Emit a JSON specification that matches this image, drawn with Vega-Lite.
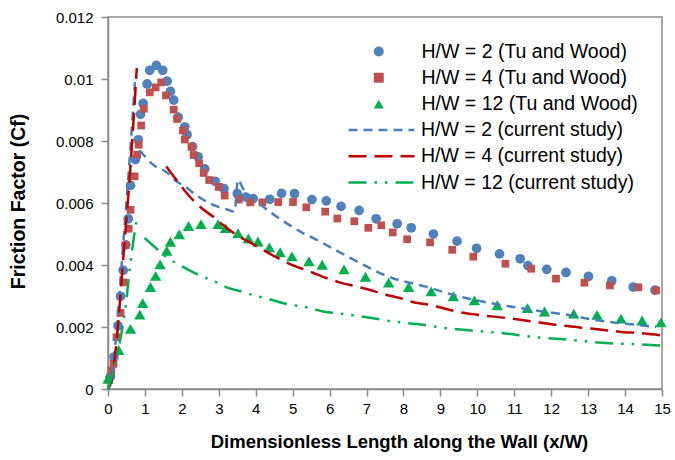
{
  "$schema": "https://vega.github.io/schema/vega-lite/v6.json",
  "width": 554,
  "height": 372,
  "autosize": {"type": "none"},
  "padding": {"left": 108, "top": 17, "right": 13, "bottom": 71},
  "background": "white",
  "config": {
    "view": {"stroke": "#8a8a8a", "strokeWidth": 1.5},
    "font": "Liberation Sans"
  },
  "datasets": {
    "pts": [
      {"s": "H/W = 2 (Tu and Wood)", "x": 0.065, "y": 0.0004},
      {"s": "H/W = 2 (Tu and Wood)", "x": 0.16, "y": 0.00103},
      {"s": "H/W = 2 (Tu and Wood)", "x": 0.27, "y": 0.00204},
      {"s": "H/W = 2 (Tu and Wood)", "x": 0.34, "y": 0.00299},
      {"s": "H/W = 2 (Tu and Wood)", "x": 0.41, "y": 0.00383},
      {"s": "H/W = 2 (Tu and Wood)", "x": 0.48, "y": 0.00465},
      {"s": "H/W = 2 (Tu and Wood)", "x": 0.55, "y": 0.00549},
      {"s": "H/W = 2 (Tu and Wood)", "x": 0.61, "y": 0.00657},
      {"s": "H/W = 2 (Tu and Wood)", "x": 0.74, "y": 0.0074},
      {"s": "H/W = 2 (Tu and Wood)", "x": 0.82, "y": 0.00804},
      {"s": "H/W = 2 (Tu and Wood)", "x": 0.88, "y": 0.00886},
      {"s": "H/W = 2 (Tu and Wood)", "x": 0.95, "y": 0.00921},
      {"s": "H/W = 2 (Tu and Wood)", "x": 1.06, "y": 0.00984},
      {"s": "H/W = 2 (Tu and Wood)", "x": 1.13, "y": 0.01028},
      {"s": "H/W = 2 (Tu and Wood)", "x": 1.31, "y": 0.01044},
      {"s": "H/W = 2 (Tu and Wood)", "x": 1.48, "y": 0.01028},
      {"s": "H/W = 2 (Tu and Wood)", "x": 1.6, "y": 0.00993},
      {"s": "H/W = 2 (Tu and Wood)", "x": 1.69, "y": 0.0096},
      {"s": "H/W = 2 (Tu and Wood)", "x": 1.78, "y": 0.00932},
      {"s": "H/W = 2 (Tu and Wood)", "x": 1.9, "y": 0.00877},
      {"s": "H/W = 2 (Tu and Wood)", "x": 2.08, "y": 0.00845},
      {"s": "H/W = 2 (Tu and Wood)", "x": 2.14, "y": 0.0082},
      {"s": "H/W = 2 (Tu and Wood)", "x": 2.29, "y": 0.00782},
      {"s": "H/W = 2 (Tu and Wood)", "x": 2.44, "y": 0.00749},
      {"s": "H/W = 2 (Tu and Wood)", "x": 2.62, "y": 0.0071},
      {"s": "H/W = 2 (Tu and Wood)", "x": 2.9, "y": 0.0067},
      {"s": "H/W = 2 (Tu and Wood)", "x": 3.14, "y": 0.00646},
      {"s": "H/W = 2 (Tu and Wood)", "x": 3.5, "y": 0.0063},
      {"s": "H/W = 2 (Tu and Wood)", "x": 3.73, "y": 0.00619},
      {"s": "H/W = 2 (Tu and Wood)", "x": 3.93, "y": 0.00614},
      {"s": "H/W = 2 (Tu and Wood)", "x": 4.38, "y": 0.00612},
      {"s": "H/W = 2 (Tu and Wood)", "x": 4.7, "y": 0.00631},
      {"s": "H/W = 2 (Tu and Wood)", "x": 5.05, "y": 0.0063},
      {"s": "H/W = 2 (Tu and Wood)", "x": 5.52, "y": 0.00611},
      {"s": "H/W = 2 (Tu and Wood)", "x": 5.91, "y": 0.00607},
      {"s": "H/W = 2 (Tu and Wood)", "x": 6.31, "y": 0.00589},
      {"s": "H/W = 2 (Tu and Wood)", "x": 6.8, "y": 0.00576},
      {"s": "H/W = 2 (Tu and Wood)", "x": 7.26, "y": 0.00549},
      {"s": "H/W = 2 (Tu and Wood)", "x": 7.83, "y": 0.00533},
      {"s": "H/W = 2 (Tu and Wood)", "x": 8.21, "y": 0.0052},
      {"s": "H/W = 2 (Tu and Wood)", "x": 8.81, "y": 0.005},
      {"s": "H/W = 2 (Tu and Wood)", "x": 9.45, "y": 0.00477},
      {"s": "H/W = 2 (Tu and Wood)", "x": 9.98, "y": 0.00454},
      {"s": "H/W = 2 (Tu and Wood)", "x": 10.6, "y": 0.00436},
      {"s": "H/W = 2 (Tu and Wood)", "x": 11.16, "y": 0.0042},
      {"s": "H/W = 2 (Tu and Wood)", "x": 11.37, "y": 0.00398},
      {"s": "H/W = 2 (Tu and Wood)", "x": 11.88, "y": 0.00386},
      {"s": "H/W = 2 (Tu and Wood)", "x": 12.4, "y": 0.00376},
      {"s": "H/W = 2 (Tu and Wood)", "x": 13.01, "y": 0.00363},
      {"s": "H/W = 2 (Tu and Wood)", "x": 13.64, "y": 0.00349},
      {"s": "H/W = 2 (Tu and Wood)", "x": 14.22, "y": 0.00329},
      {"s": "H/W = 2 (Tu and Wood)", "x": 14.81, "y": 0.00319},
      {"s": "H/W = 4 (Tu and Wood)", "x": 0.03, "y": 0.0003},
      {"s": "H/W = 4 (Tu and Wood)", "x": 0.09, "y": 0.00059},
      {"s": "H/W = 4 (Tu and Wood)", "x": 0.15, "y": 0.00081},
      {"s": "H/W = 4 (Tu and Wood)", "x": 0.23, "y": 0.00167},
      {"s": "H/W = 4 (Tu and Wood)", "x": 0.34, "y": 0.00245},
      {"s": "H/W = 4 (Tu and Wood)", "x": 0.42, "y": 0.00344},
      {"s": "H/W = 4 (Tu and Wood)", "x": 0.48, "y": 0.00464},
      {"s": "H/W = 4 (Tu and Wood)", "x": 0.56, "y": 0.00517},
      {"s": "H/W = 4 (Tu and Wood)", "x": 0.61, "y": 0.00578},
      {"s": "H/W = 4 (Tu and Wood)", "x": 0.72, "y": 0.00686},
      {"s": "H/W = 4 (Tu and Wood)", "x": 0.79, "y": 0.00756},
      {"s": "H/W = 4 (Tu and Wood)", "x": 0.83, "y": 0.00788},
      {"s": "H/W = 4 (Tu and Wood)", "x": 0.9, "y": 0.0085},
      {"s": "H/W = 4 (Tu and Wood)", "x": 0.97, "y": 0.00904},
      {"s": "H/W = 4 (Tu and Wood)", "x": 1.13, "y": 0.00957},
      {"s": "H/W = 4 (Tu and Wood)", "x": 1.29, "y": 0.00973},
      {"s": "H/W = 4 (Tu and Wood)", "x": 1.44, "y": 0.00989},
      {"s": "H/W = 4 (Tu and Wood)", "x": 1.57, "y": 0.00947},
      {"s": "H/W = 4 (Tu and Wood)", "x": 1.78, "y": 0.00901},
      {"s": "H/W = 4 (Tu and Wood)", "x": 1.87, "y": 0.00871},
      {"s": "H/W = 4 (Tu and Wood)", "x": 2.03, "y": 0.00834},
      {"s": "H/W = 4 (Tu and Wood)", "x": 2.08, "y": 0.00805},
      {"s": "H/W = 4 (Tu and Wood)", "x": 2.26, "y": 0.00781},
      {"s": "H/W = 4 (Tu and Wood)", "x": 2.32, "y": 0.00755},
      {"s": "H/W = 4 (Tu and Wood)", "x": 2.47, "y": 0.00728},
      {"s": "H/W = 4 (Tu and Wood)", "x": 2.59, "y": 0.00697},
      {"s": "H/W = 4 (Tu and Wood)", "x": 2.74, "y": 0.00674},
      {"s": "H/W = 4 (Tu and Wood)", "x": 3.0, "y": 0.00652},
      {"s": "H/W = 4 (Tu and Wood)", "x": 3.16, "y": 0.00624},
      {"s": "H/W = 4 (Tu and Wood)", "x": 3.54, "y": 0.00611},
      {"s": "H/W = 4 (Tu and Wood)", "x": 3.85, "y": 0.00602},
      {"s": "H/W = 4 (Tu and Wood)", "x": 4.18, "y": 0.00602},
      {"s": "H/W = 4 (Tu and Wood)", "x": 4.61, "y": 0.00603},
      {"s": "H/W = 4 (Tu and Wood)", "x": 5.01, "y": 0.00603},
      {"s": "H/W = 4 (Tu and Wood)", "x": 5.37, "y": 0.00586},
      {"s": "H/W = 4 (Tu and Wood)", "x": 5.88, "y": 0.00572},
      {"s": "H/W = 4 (Tu and Wood)", "x": 6.21, "y": 0.0055},
      {"s": "H/W = 4 (Tu and Wood)", "x": 6.67, "y": 0.00541},
      {"s": "H/W = 4 (Tu and Wood)", "x": 7.05, "y": 0.0052},
      {"s": "H/W = 4 (Tu and Wood)", "x": 7.4, "y": 0.00528},
      {"s": "H/W = 4 (Tu and Wood)", "x": 7.71, "y": 0.00505},
      {"s": "H/W = 4 (Tu and Wood)", "x": 8.1, "y": 0.00483},
      {"s": "H/W = 4 (Tu and Wood)", "x": 8.72, "y": 0.00473},
      {"s": "H/W = 4 (Tu and Wood)", "x": 9.32, "y": 0.00449},
      {"s": "H/W = 4 (Tu and Wood)", "x": 9.89, "y": 0.00427},
      {"s": "H/W = 4 (Tu and Wood)", "x": 10.76, "y": 0.00404},
      {"s": "H/W = 4 (Tu and Wood)", "x": 11.46, "y": 0.00388},
      {"s": "H/W = 4 (Tu and Wood)", "x": 12.13, "y": 0.00356},
      {"s": "H/W = 4 (Tu and Wood)", "x": 12.9, "y": 0.00343},
      {"s": "H/W = 4 (Tu and Wood)", "x": 13.59, "y": 0.00334},
      {"s": "H/W = 4 (Tu and Wood)", "x": 14.36, "y": 0.00328},
      {"s": "H/W = 4 (Tu and Wood)", "x": 14.84, "y": 0.00318},
      {"s": "H/W = 12 (Tu and Wood)", "x": 0.0, "y": 0.00033},
      {"s": "H/W = 12 (Tu and Wood)", "x": 0.29, "y": 0.00126},
      {"s": "H/W = 12 (Tu and Wood)", "x": 0.61, "y": 0.00194},
      {"s": "H/W = 12 (Tu and Wood)", "x": 0.86, "y": 0.0024},
      {"s": "H/W = 12 (Tu and Wood)", "x": 0.94, "y": 0.00277},
      {"s": "H/W = 12 (Tu and Wood)", "x": 1.15, "y": 0.00329},
      {"s": "H/W = 12 (Tu and Wood)", "x": 1.29, "y": 0.00365},
      {"s": "H/W = 12 (Tu and Wood)", "x": 1.41, "y": 0.00402},
      {"s": "H/W = 12 (Tu and Wood)", "x": 1.59, "y": 0.00446},
      {"s": "H/W = 12 (Tu and Wood)", "x": 1.69, "y": 0.00475},
      {"s": "H/W = 12 (Tu and Wood)", "x": 1.93, "y": 0.00499},
      {"s": "H/W = 12 (Tu and Wood)", "x": 2.18, "y": 0.00526},
      {"s": "H/W = 12 (Tu and Wood)", "x": 2.52, "y": 0.00532},
      {"s": "H/W = 12 (Tu and Wood)", "x": 2.98, "y": 0.00532},
      {"s": "H/W = 12 (Tu and Wood)", "x": 3.18, "y": 0.00519},
      {"s": "H/W = 12 (Tu and Wood)", "x": 3.52, "y": 0.00503},
      {"s": "H/W = 12 (Tu and Wood)", "x": 3.8, "y": 0.00486},
      {"s": "H/W = 12 (Tu and Wood)", "x": 4.06, "y": 0.00476},
      {"s": "H/W = 12 (Tu and Wood)", "x": 4.37, "y": 0.00457},
      {"s": "H/W = 12 (Tu and Wood)", "x": 4.66, "y": 0.00441},
      {"s": "H/W = 12 (Tu and Wood)", "x": 4.98, "y": 0.00428},
      {"s": "H/W = 12 (Tu and Wood)", "x": 5.44, "y": 0.00412},
      {"s": "H/W = 12 (Tu and Wood)", "x": 5.8, "y": 0.00401},
      {"s": "H/W = 12 (Tu and Wood)", "x": 6.39, "y": 0.00386},
      {"s": "H/W = 12 (Tu and Wood)", "x": 6.97, "y": 0.00362},
      {"s": "H/W = 12 (Tu and Wood)", "x": 7.6, "y": 0.00343},
      {"s": "H/W = 12 (Tu and Wood)", "x": 8.14, "y": 0.00329},
      {"s": "H/W = 12 (Tu and Wood)", "x": 8.75, "y": 0.00315},
      {"s": "H/W = 12 (Tu and Wood)", "x": 9.35, "y": 0.00299},
      {"s": "H/W = 12 (Tu and Wood)", "x": 9.92, "y": 0.00286},
      {"s": "H/W = 12 (Tu and Wood)", "x": 10.54, "y": 0.0027},
      {"s": "H/W = 12 (Tu and Wood)", "x": 11.36, "y": 0.00261},
      {"s": "H/W = 12 (Tu and Wood)", "x": 11.82, "y": 0.0025},
      {"s": "H/W = 12 (Tu and Wood)", "x": 12.61, "y": 0.00243},
      {"s": "H/W = 12 (Tu and Wood)", "x": 13.24, "y": 0.00239},
      {"s": "H/W = 12 (Tu and Wood)", "x": 13.89, "y": 0.00227},
      {"s": "H/W = 12 (Tu and Wood)", "x": 14.46, "y": 0.00221},
      {"s": "H/W = 12 (Tu and Wood)", "x": 14.97, "y": 0.00215}
    ],
    "lns": [
      {"s": "H/W = 2 (current study)", "g": 1, "x": 0.0, "y": 0.0},
      {"s": "H/W = 2 (current study)", "g": 1, "x": 0.1, "y": 0.0004},
      {"s": "H/W = 2 (current study)", "g": 1, "x": 0.22, "y": 0.0017},
      {"s": "H/W = 2 (current study)", "g": 1, "x": 0.4, "y": 0.0045},
      {"s": "H/W = 2 (current study)", "g": 1, "x": 0.58, "y": 0.0073},
      {"s": "H/W = 2 (current study)", "g": 1, "x": 0.73, "y": 0.0099},
      {"s": "H/W = 2 (current study)", "g": 2, "x": 0.86, "y": 0.0077},
      {"s": "H/W = 2 (current study)", "g": 2, "x": 1.0, "y": 0.0075},
      {"s": "H/W = 2 (current study)", "g": 2, "x": 1.26, "y": 0.0072},
      {"s": "H/W = 2 (current study)", "g": 2, "x": 1.58, "y": 0.007},
      {"s": "H/W = 2 (current study)", "g": 2, "x": 1.85, "y": 0.0067},
      {"s": "H/W = 2 (current study)", "g": 2, "x": 2.08, "y": 0.00654},
      {"s": "H/W = 2 (current study)", "g": 2, "x": 2.39, "y": 0.00625},
      {"s": "H/W = 2 (current study)", "g": 2, "x": 2.93, "y": 0.0059},
      {"s": "H/W = 2 (current study)", "g": 2, "x": 3.25, "y": 0.00578},
      {"s": "H/W = 2 (current study)", "g": 2, "x": 3.43, "y": 0.00572},
      {"s": "H/W = 2 (current study)", "g": 2, "x": 3.52, "y": 0.00675},
      {"s": "H/W = 2 (current study)", "g": 2, "x": 3.65, "y": 0.00648},
      {"s": "H/W = 2 (current study)", "g": 2, "x": 4.06, "y": 0.00602},
      {"s": "H/W = 2 (current study)", "g": 2, "x": 4.42, "y": 0.00568},
      {"s": "H/W = 2 (current study)", "g": 2, "x": 4.83, "y": 0.00535},
      {"s": "H/W = 2 (current study)", "g": 2, "x": 5.28, "y": 0.00503},
      {"s": "H/W = 2 (current study)", "g": 2, "x": 5.64, "y": 0.00482},
      {"s": "H/W = 2 (current study)", "g": 2, "x": 6.09, "y": 0.00453},
      {"s": "H/W = 2 (current study)", "g": 2, "x": 6.54, "y": 0.00424},
      {"s": "H/W = 2 (current study)", "g": 2, "x": 6.99, "y": 0.00396},
      {"s": "H/W = 2 (current study)", "g": 2, "x": 7.58, "y": 0.00363},
      {"s": "H/W = 2 (current study)", "g": 2, "x": 8.57, "y": 0.00331},
      {"s": "H/W = 2 (current study)", "g": 2, "x": 9.25, "y": 0.00307},
      {"s": "H/W = 2 (current study)", "g": 2, "x": 9.88, "y": 0.00288},
      {"s": "H/W = 2 (current study)", "g": 2, "x": 10.6, "y": 0.00272},
      {"s": "H/W = 2 (current study)", "g": 2, "x": 11.77, "y": 0.0025},
      {"s": "H/W = 2 (current study)", "g": 2, "x": 12.4, "y": 0.0024},
      {"s": "H/W = 2 (current study)", "g": 2, "x": 13.03, "y": 0.00226},
      {"s": "H/W = 2 (current study)", "g": 2, "x": 13.66, "y": 0.00215},
      {"s": "H/W = 2 (current study)", "g": 2, "x": 14.3, "y": 0.00207},
      {"s": "H/W = 2 (current study)", "g": 2, "x": 14.84, "y": 0.002},
      {"s": "H/W = 4 (current study)", "g": 3, "x": 0.0, "y": 0.0},
      {"s": "H/W = 4 (current study)", "g": 3, "x": 0.1, "y": 0.0003},
      {"s": "H/W = 4 (current study)", "g": 3, "x": 0.24, "y": 0.00165},
      {"s": "H/W = 4 (current study)", "g": 3, "x": 0.42, "y": 0.0043},
      {"s": "H/W = 4 (current study)", "g": 3, "x": 0.61, "y": 0.0072},
      {"s": "H/W = 4 (current study)", "g": 3, "x": 0.78, "y": 0.01035},
      {"s": "H/W = 4 (current study)", "g": 4, "x": 1.58, "y": 0.00718},
      {"s": "H/W = 4 (current study)", "g": 4, "x": 1.85, "y": 0.00675},
      {"s": "H/W = 4 (current study)", "g": 4, "x": 2.21, "y": 0.00621},
      {"s": "H/W = 4 (current study)", "g": 4, "x": 2.53, "y": 0.00584},
      {"s": "H/W = 4 (current study)", "g": 4, "x": 2.89, "y": 0.00552},
      {"s": "H/W = 4 (current study)", "g": 4, "x": 3.16, "y": 0.00525},
      {"s": "H/W = 4 (current study)", "g": 4, "x": 3.47, "y": 0.00498},
      {"s": "H/W = 4 (current study)", "g": 4, "x": 3.79, "y": 0.00476},
      {"s": "H/W = 4 (current study)", "g": 4, "x": 4.15, "y": 0.00452},
      {"s": "H/W = 4 (current study)", "g": 4, "x": 4.51, "y": 0.00428},
      {"s": "H/W = 4 (current study)", "g": 4, "x": 4.87, "y": 0.00406},
      {"s": "H/W = 4 (current study)", "g": 4, "x": 5.46, "y": 0.00379},
      {"s": "H/W = 4 (current study)", "g": 4, "x": 5.91, "y": 0.00358},
      {"s": "H/W = 4 (current study)", "g": 4, "x": 6.27, "y": 0.00344},
      {"s": "H/W = 4 (current study)", "g": 4, "x": 6.72, "y": 0.00331},
      {"s": "H/W = 4 (current study)", "g": 4, "x": 7.08, "y": 0.0032},
      {"s": "H/W = 4 (current study)", "g": 4, "x": 7.53, "y": 0.00304},
      {"s": "H/W = 4 (current study)", "g": 4, "x": 7.89, "y": 0.00294},
      {"s": "H/W = 4 (current study)", "g": 4, "x": 8.3, "y": 0.00279},
      {"s": "H/W = 4 (current study)", "g": 4, "x": 8.7, "y": 0.00272},
      {"s": "H/W = 4 (current study)", "g": 4, "x": 9.16, "y": 0.00258},
      {"s": "H/W = 4 (current study)", "g": 4, "x": 9.52, "y": 0.00248},
      {"s": "H/W = 4 (current study)", "g": 4, "x": 9.97, "y": 0.0024},
      {"s": "H/W = 4 (current study)", "g": 4, "x": 10.78, "y": 0.00229},
      {"s": "H/W = 4 (current study)", "g": 4, "x": 11.5, "y": 0.00218},
      {"s": "H/W = 4 (current study)", "g": 4, "x": 12.27, "y": 0.00205},
      {"s": "H/W = 4 (current study)", "g": 4, "x": 13.08, "y": 0.00195},
      {"s": "H/W = 4 (current study)", "g": 4, "x": 13.84, "y": 0.00185},
      {"s": "H/W = 4 (current study)", "g": 4, "x": 14.52, "y": 0.00179},
      {"s": "H/W = 4 (current study)", "g": 4, "x": 15.0, "y": 0.00173},
      {"s": "H/W = 12 (current study)", "g": 5, "x": 0.0, "y": 0.0},
      {"s": "H/W = 12 (current study)", "g": 5, "x": 0.15, "y": 0.0006},
      {"s": "H/W = 12 (current study)", "g": 5, "x": 0.3, "y": 0.0014},
      {"s": "H/W = 12 (current study)", "g": 5, "x": 0.47, "y": 0.0026},
      {"s": "H/W = 12 (current study)", "g": 5, "x": 0.61, "y": 0.0041},
      {"s": "H/W = 12 (current study)", "g": 5, "x": 0.78, "y": 0.0055},
      {"s": "H/W = 12 (current study)", "g": 6, "x": 0.99, "y": 0.00487},
      {"s": "H/W = 12 (current study)", "g": 6, "x": 1.35, "y": 0.00449},
      {"s": "H/W = 12 (current study)", "g": 6, "x": 1.58, "y": 0.00426},
      {"s": "H/W = 12 (current study)", "g": 6, "x": 2.03, "y": 0.00394},
      {"s": "H/W = 12 (current study)", "g": 6, "x": 2.44, "y": 0.00369},
      {"s": "H/W = 12 (current study)", "g": 6, "x": 2.71, "y": 0.00355},
      {"s": "H/W = 12 (current study)", "g": 6, "x": 2.98, "y": 0.00342},
      {"s": "H/W = 12 (current study)", "g": 6, "x": 3.25, "y": 0.00326},
      {"s": "H/W = 12 (current study)", "g": 6, "x": 3.7, "y": 0.00312},
      {"s": "H/W = 12 (current study)", "g": 6, "x": 3.97, "y": 0.00301},
      {"s": "H/W = 12 (current study)", "g": 6, "x": 4.24, "y": 0.00294},
      {"s": "H/W = 12 (current study)", "g": 6, "x": 4.56, "y": 0.00283},
      {"s": "H/W = 12 (current study)", "g": 6, "x": 4.92, "y": 0.00272},
      {"s": "H/W = 12 (current study)", "g": 6, "x": 5.28, "y": 0.00266},
      {"s": "H/W = 12 (current study)", "g": 6, "x": 5.82, "y": 0.0025},
      {"s": "H/W = 12 (current study)", "g": 6, "x": 6.31, "y": 0.00243},
      {"s": "H/W = 12 (current study)", "g": 6, "x": 7.13, "y": 0.00229},
      {"s": "H/W = 12 (current study)", "g": 6, "x": 7.71, "y": 0.00218},
      {"s": "H/W = 12 (current study)", "g": 6, "x": 8.52, "y": 0.00207},
      {"s": "H/W = 12 (current study)", "g": 6, "x": 9.11, "y": 0.00197},
      {"s": "H/W = 12 (current study)", "g": 6, "x": 9.88, "y": 0.00188},
      {"s": "H/W = 12 (current study)", "g": 6, "x": 10.6, "y": 0.00181},
      {"s": "H/W = 12 (current study)", "g": 6, "x": 11.68, "y": 0.00166},
      {"s": "H/W = 12 (current study)", "g": 6, "x": 12.49, "y": 0.00159},
      {"s": "H/W = 12 (current study)", "g": 6, "x": 13.49, "y": 0.00148},
      {"s": "H/W = 12 (current study)", "g": 6, "x": 14.28, "y": 0.00145},
      {"s": "H/W = 12 (current study)", "g": 6, "x": 14.99, "y": 0.0014}
    ]
  },
  "encoding": {
    "x": {
      "field": "x", "type": "quantitative",
      "scale": {"domain": [0, 15], "nice": false, "zero": false},
      "axis": {
        "values": [0, 1, 2, 3, 4, 5, 6, 7, 8, 9, 10, 11, 12, 13, 14, 15],
        "format": "d", "grid": false,
        "title": "Dimensionless Length along the Wall (x/W)",
        "domainColor": "#8a8a8a", "domainWidth": 1.5,
        "tickColor": "#8a8a8a", "tickWidth": 1.5, "tickSize": 7,
        "labelFont": "Liberation Sans", "labelFontSize": 15, "labelColor": "#000000",
        "labelPadding": 5, "labelFlush": false, "labelOverlap": false,
        "titleFont": "Liberation Sans", "titleFontSize": 18.5, "titleFontWeight": "bold",
        "titleColor": "#000000", "titleX": 291, "titleY": 52, "titleBaseline": "middle", "titleAlign": "center"
      }
    },
    "y": {
      "field": "y", "type": "quantitative",
      "scale": {"domain": [0, 0.012], "nice": false},
      "axis": {
        "values": [0, 0.002, 0.004, 0.006, 0.008, 0.01, 0.012],
        "format": "~g", "grid": false,
        "title": "Friction Factor (Cf)",
        "domainColor": "#8a8a8a", "domainWidth": 1.5,
        "tickColor": "#8a8a8a", "tickWidth": 1.5, "tickSize": 7,
        "labelFont": "Liberation Sans", "labelFontSize": 15, "labelColor": "#000000",
        "labelPadding": 8, "labelFlush": false, "labelOverlap": false,
        "titleFont": "Liberation Sans", "titleFontSize": 19.5, "titleFontWeight": "bold",
        "titleColor": "#000000", "titleX": -90, "titleY": 184, "titleBaseline": "middle"
      }
    }
  },
  "layer": [
    {
      "data": {"name": "pts"},
      "mark": {"type": "point", "filled": true, "opacity": 1, "strokeWidth": 0},
      "encoding": {
        "color": {
          "field": "s", "type": "nominal",
          "scale": {"domain": ["H/W = 2 (Tu and Wood)", "H/W = 4 (Tu and Wood)", "H/W = 12 (Tu and Wood)"], "range": ["#4F81BD", "#C0504D", "#00B050"]},
          "legend": {
            "orient": "none", "legendX": 261, "legendY": 24.5, "title": null, "padding": 0,
            "clipHeight": 20, "rowPadding": 6.3,
            "labelFont": "Liberation Sans", "labelFontSize": 19.5, "labelColor": "#000000",
            "labelLimit": 400, "labelOffset": 33, "symbolStrokeWidth": 0,
            "encode": {"symbols": {"update": {"size": {"signal": "datum.value === 'H/W = 4 (Tu and Wood)' ? 60 : datum.value === 'H/W = 12 (Tu and Wood)' ? 130 : 95"}}}}
          }
        },
        "shape": {
          "field": "s", "type": "nominal",
          "scale": {"domain": ["H/W = 2 (Tu and Wood)", "H/W = 4 (Tu and Wood)", "H/W = 12 (Tu and Wood)"], "range": ["circle", "square", "triangle-up"]},
          "legend": {
            "orient": "none", "legendX": 261, "legendY": 24.5, "title": null, "padding": 0,
            "clipHeight": 20, "rowPadding": 6.3,
            "labelFont": "Liberation Sans", "labelFontSize": 19.5, "labelColor": "#000000",
            "labelLimit": 400, "labelOffset": 33, "symbolStrokeWidth": 0,
            "encode": {"symbols": {"update": {"size": {"signal": "datum.value === 'H/W = 4 (Tu and Wood)' ? 60 : datum.value === 'H/W = 12 (Tu and Wood)' ? 130 : 95"}}}}
          }
        },
        "size": {
          "condition": [
            {"test": "datum.s === 'H/W = 4 (Tu and Wood)'", "value": 60},
            {"test": "datum.s === 'H/W = 12 (Tu and Wood)'", "value": 130}
          ],
          "value": 95
        }
      }
    },
    {
      "data": {"name": "lns"},
      "mark": {"type": "line", "strokeWidth": 2.5, "interpolate": "monotone"},
      "encoding": {
        "detail": {"field": "g", "type": "nominal"},
        "color": {
          "field": "s", "type": "nominal",
          "scale": {"domain": ["H/W = 2 (current study)", "H/W = 4 (current study)", "H/W = 12 (current study)"], "range": ["#4A7EBB", "#C00000", "#00B050"]},
          "legend": {
            "orient": "none", "legendX": 239, "legendY": 103, "title": null, "padding": 0,
            "clipHeight": 20, "rowPadding": 6.3,
            "labelFont": "Liberation Sans", "labelFontSize": 19.5, "labelColor": "#000000",
            "labelLimit": 400, "labelOffset": 5,
            "symbolType": "stroke", "symbolSize": 4356, "symbolStrokeWidth": 2.5
          }
        },
        "strokeDash": {
          "field": "s", "type": "nominal",
          "scale": {"domain": ["H/W = 2 (current study)", "H/W = 4 (current study)", "H/W = 12 (current study)"], "range": [[9, 6], [18, 8], [18, 8, 2.5, 8, 2.5, 8]]},
          "legend": {
            "orient": "none", "legendX": 239, "legendY": 103, "title": null, "padding": 0,
            "clipHeight": 20, "rowPadding": 6.3,
            "labelFont": "Liberation Sans", "labelFontSize": 19.5, "labelColor": "#000000",
            "labelLimit": 400, "labelOffset": 5,
            "symbolType": "stroke", "symbolSize": 4356, "symbolStrokeWidth": 2.5
          }
        }
      }
    }
  ],
  "resolve": {
    "scale": {"color": "independent", "shape": "independent", "strokeDash": "independent"},
    "legend": {"color": "independent", "shape": "independent", "strokeDash": "independent"}
  }
}
